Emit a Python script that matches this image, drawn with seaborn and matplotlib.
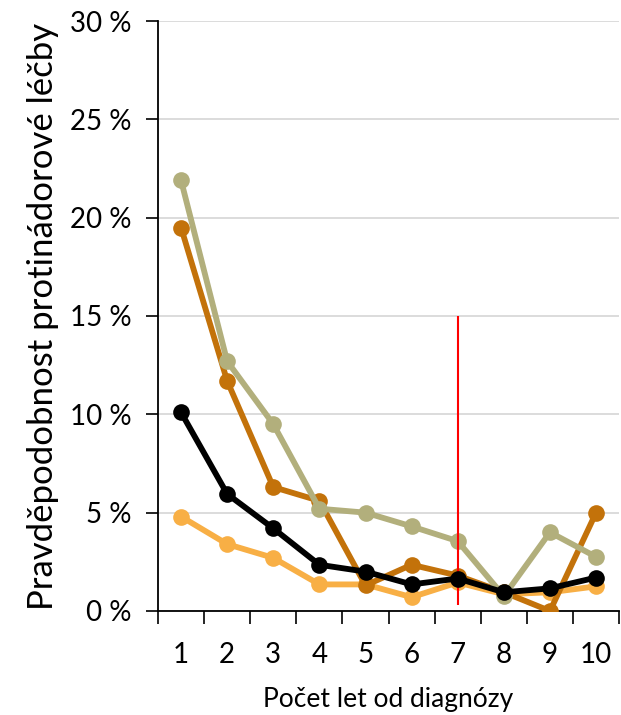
import matplotlib
matplotlib.use("Agg")
import matplotlib.pyplot as plt
import seaborn as sns
import pandas as pd

# Počet let od diagnózy
years = [1, 2, 3, 4, 5, 6, 7, 8, 9, 10]

# pravděpodobnost léčby v %
khaki_vals = [21.9, 12.7, 9.5, 5.2, 5.0, 4.3, 3.55, 0.75, 4.0, 2.75]
orange_vals = [19.5, 11.7, 6.3, 5.6, 1.3, 2.35, 1.8, 0.95, 0.0, 5.0]
black_vals = [10.1, 5.95, 4.2, 2.35, 2.0, 1.35, 1.65, 0.95, 1.15, 1.7]
light_vals = [4.8, 3.4, 2.7, 1.35, 1.35, 0.7, 1.45, 0.85, 0.95, 1.25]

y_ticks = [0, 5, 10, 15, 20, 25, 30]
y_labels = [f"{t} %" for t in y_ticks]

marker_year = 7
marker_range = (0.3, 15)

sns.set_style("white")
plt.rcParams['font.family'] = ['Lato', 'DejaVu Sans']
plt.rcParams['text.color'] = 'black'
plt.rcParams['axes.labelcolor'] = 'black'
plt.rcParams['xtick.color'] = 'black'
plt.rcParams['ytick.color'] = 'black'

fig = plt.figure(figsize=(6.21, 7.15), dpi=100)
ax = fig.add_axes([0.2544, 0.1455, 0.7426, 0.8251])

series = [
    (light_vals, '#F8AF45'),
    (orange_vals, '#C3720A'),
    (khaki_vals, '#B2AF7C'),
]
for vals, col in series:
    sns.lineplot(x=years, y=vals, ax=ax, color=col, linewidth=4.2,
                 marker='o', markersize=12, markeredgewidth=0, zorder=3)

# svislá čára u 7. roku
ax.vlines(marker_year, marker_range[0], marker_range[1], color='#FF0000',
          linewidth=1.5, zorder=4)

sns.lineplot(x=years, y=black_vals, ax=ax, color='black', linewidth=4.2,
             marker='o', markersize=12, markeredgewidth=0, zorder=5)

ax.set_xlim(0.5, 10.5)
ax.set_ylim(0, 30)
ax.set_yticks(y_ticks)
ax.set_yticklabels(y_labels, fontsize=20)
ax.set_xticks(years)
ax.set_xticklabels([str(y) for y in years], fontsize=20)
ax.set_xticks([y + 0.5 for y in [0] + years], minor=True)

ax.yaxis.grid(True, color='#D9D9D9', linewidth=1.3)
ax.set_axisbelow(True)
ax.tick_params(axis='y', which='major', direction='out', length=9, width=1.2,
               color='black', left=True, pad=10)
ax.tick_params(axis='x', which='major', length=0, pad=22)
ax.tick_params(axis='x', which='minor', direction='out', length=9, width=1.2,
               color='black', bottom=True)

for s in ['top', 'right']:
    ax.spines[s].set_visible(False)
for s in ['left', 'bottom']:
    ax.spines[s].set_color('black')
    ax.spines[s].set_linewidth(1.3)

ax.set_xlabel('Počet let od diagnózy', fontsize=19, labelpad=14)
ax.set_ylabel('Pravděpodobnost protinádorové léčby', fontsize=25, labelpad=8)

fig.savefig('out.png', dpi=100)
